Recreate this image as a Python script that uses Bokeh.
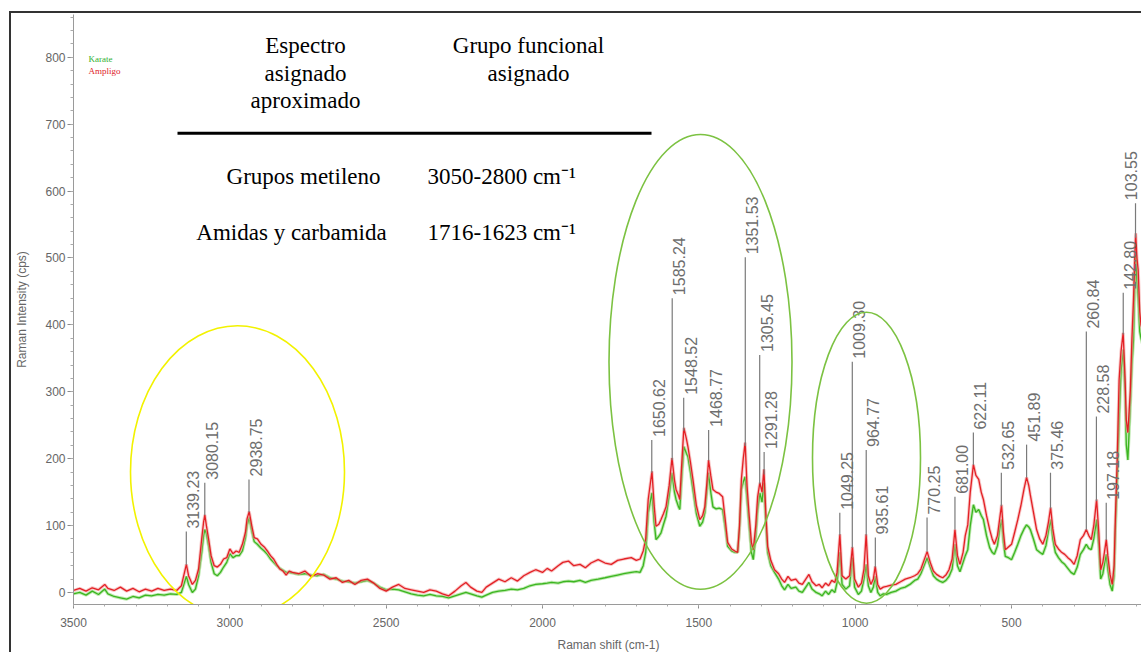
import numpy as np
from bokeh.plotting import figure
from bokeh.models import Range1d, SingleIntervalTicker
from bokeh.core.properties import value
from bokeh.embed import file_html
from bokeh.resources import INLINE

# ---------------- data ----------------
wavenumber = [3500, 3480, 3460, 3440, 3420, 3400, 3390, 3370, 3350, 3330, 3310, 3290, 3270, 3250,
              3230, 3210, 3190, 3170, 3155, 3145, 3139, 3132, 3120, 3110, 3100, 3090, 3084, 3080,
              3075, 3068, 3060, 3050, 3040, 3030, 3020, 3010, 3000, 2990, 2980, 2970, 2960, 2950,
              2945, 2938, 2930, 2922, 2912, 2900, 2890, 2880, 2870, 2860, 2850, 2840, 2830, 2820,
              2810, 2800, 2780, 2760, 2740, 2720, 2700, 2680, 2660, 2640, 2620, 2600, 2580, 2560,
              2540, 2520, 2500, 2480, 2460, 2440, 2420, 2400, 2380, 2360, 2340, 2320, 2300, 2280,
              2260, 2245, 2230, 2210, 2194, 2180, 2160, 2140, 2120, 2100, 2080, 2060, 2040, 2022,
              2000, 1985, 1971, 1950, 1935, 1917, 1900, 1880, 1863, 1845, 1822, 1800, 1780, 1760,
              1740, 1716, 1700, 1688, 1678, 1670, 1662, 1650, 1643, 1637, 1628, 1621, 1613, 1605,
              1595, 1586, 1578, 1573, 1565, 1561, 1555, 1548, 1540, 1535, 1527, 1519, 1508, 1497,
              1488, 1481, 1475, 1469, 1462, 1455, 1445, 1435, 1424, 1416, 1408, 1395, 1385, 1376,
              1370, 1364, 1358, 1352, 1346, 1340, 1332, 1326, 1318, 1312, 1305, 1298, 1292, 1286,
              1280, 1270, 1258, 1245, 1235, 1226, 1215, 1205, 1190, 1180, 1169, 1158, 1148, 1138,
              1125, 1115, 1106, 1095, 1085, 1075, 1065, 1058, 1049, 1042, 1030, 1018, 1009, 1002,
              990, 980, 972, 965, 958, 950, 942, 936, 928, 920, 910, 900, 885, 870, 855, 840, 825,
              810, 800, 790, 780, 770, 760, 750, 740, 730, 720, 710, 700, 690, 681, 673, 665, 655,
              648, 640, 632, 622, 614, 605, 597, 590, 580, 570, 562, 555, 545, 538, 532, 526, 520,
              510, 500, 490, 480, 470, 460, 452, 445, 440, 430, 420, 410, 400, 390, 382, 375, 368,
              360, 350, 340, 330, 320, 310, 300, 290, 280, 270, 261, 253, 245, 237, 228, 221, 215,
              208, 203, 197, 192, 185, 178, 172, 168, 162, 156, 150, 143, 137, 133, 128, 124, 120,
              115, 110, 106, 103, 99, 95, 90, 86, 80]

ampligo = [3, 6, 2, 7, 4, 12, 6, 3, 8, 2, 6, 1, 5, 2,
           6, 3, 5, 3, 10, 30, 42, 25, 12, 18, 35, 80, 105, 116,
           100, 80, 55, 40, 38, 42, 50, 52, 65, 58, 62, 60, 72, 90,
           110, 121, 100, 82, 80, 72, 68, 62, 55, 50, 42, 35, 32, 26,
           32, 30, 28, 32, 24, 28, 26, 20, 22, 15, 18, 12, 18, 20,
           14, 6, 2, 8, 12, 6, 4, 2, 0, 4, 2, -2, -5, 2,
           10, 15, 8, 2, 0, 8, 14, 20, 16, 22, 17, 25, 30, 34,
           30, 36, 32, 40, 45, 47, 40, 42, 37, 44, 49, 44, 42, 48,
           50, 52, 48, 50, 62, 80, 139, 181, 130, 99, 102, 109, 118, 128,
           160, 201, 168, 154, 145, 139, 190, 246, 230, 218, 195, 169, 130, 109,
           115, 128, 160, 198, 175, 154, 150, 148, 143, 110, 75, 65, 62, 60,
           100, 169, 200, 224, 160, 120, 75, 64, 100, 143, 164, 150, 184, 120,
           69, 48, 34, 28, 20, 15, 24, 18, 20, 14, 12, 20, 27, 16,
           10, 12, 7, 14, 10, 18, 15, 30, 87, 25, 20, 25, 68, 20,
           8, 14, 35, 87, 25, 12, 20, 39, 12, 5, 8, 9, 11, 12, 16, 20, 22,
           25, 28, 35, 48, 61, 45, 32, 27, 24, 22, 26, 34, 50, 94, 55, 42, 60,
           85, 101, 150, 191, 175, 169, 150, 139, 115, 94, 80, 72, 85, 110, 131, 90, 64,
           68, 72, 90, 109, 130, 155, 172, 160, 146, 120, 94, 80, 72, 85, 105, 127, 95,
           72, 65, 60, 57, 52, 48, 42, 55, 79, 85, 94, 85, 79, 100, 139, 90, 34,
           45, 60, 79, 55, 27, 12, 40, 109, 200, 318, 360, 388, 320, 258, 239, 270, 303,
           380, 437, 500, 537, 500, 482, 420, 400, 390]

karate = [-2, 0, -4, 2, -3, 5, -2, -6, -8, -10, -6, -8, -4, -5,
          -3, -4, -2, -3, 0, 15, 24, 12, 0, 5, 25, 60, 85, 94,
          88, 70, 45, 28, 25, 30, 38, 45, 58, 52, 55, 55, 62, 82,
          100, 112, 92, 76, 72, 66, 62, 57, 50, 45, 40, 36, 33, 30,
          30, 29, 27, 28, 26, 25, 27, 22, 20, 17, 16, 14, 16, 18,
          14, 8, 4, 5, 4, 1, -2, -4, -5, -3, -5, -6, -8, -5,
          -2, 0, -2, -5, -7, -4, 0, 2, 3, 5, 4, 6, 10, 12,
          13, 14, 15, 14, 16, 17, 16, 18, 15, 18, 20, 22, 24, 26,
          28, 30, 31, 30, 40, 60, 119, 149, 105, 79, 84, 89, 102, 114,
          145, 179, 150, 139, 128, 124, 170, 218, 208, 203, 180, 154, 118, 99,
          105, 119, 148, 179, 150, 128, 125, 126, 124, 98, 69, 62, 60, 60,
          95, 154, 165, 173, 140, 105, 60, 49, 85, 124, 149, 135, 164, 105,
          60, 40, 30, 20, 10, 4, 12, 6, 8, 2, 0, 8, 15, 5,
          0, -2, -5, 2, -3, 4, 0, 15, 60, 12, 5, 10, 52, 8,
          -3, 2, 20, 42, 10, 0, 8, 24, 0, -5, -2, -3, 0, 2, 6, 8, 12,
          18, 20, 28, 40, 52, 38, 25, 20, 17, 15, 18, 24, 35, 72, 40, 31, 45,
          55, 64, 100, 131, 120, 124, 115, 109, 85, 67, 60, 57, 70, 95, 109, 75, 54,
          52, 49, 60, 72, 85, 95, 101, 98, 94, 80, 64, 60, 57, 70, 92, 109, 80,
          60, 52, 46, 42, 36, 30, 27, 38, 57, 64, 72, 66, 64, 80, 109, 70, 20,
          28, 42, 57, 35, 12, 2, 25, 94, 170, 258, 330, 363, 300, 221, 198, 240, 281,
          340, 378, 460, 504, 467, 440, 390, 380, 370]

series_names = ["Karate", "Ampligo"]

peak_positions = [3139.23, 3080.15, 2938.75, 1650.62, 1585.24, 1548.52, 1468.77, 1351.53,
                  1305.45, 1291.28, 1049.25, 1009.30, 964.77, 935.61, 770.25, 681.00, 622.11,
                  532.65, 451.89, 375.46, 260.84, 228.58, 197.18, 142.80, 103.55]
peak_label_tops = [91, 164, 169, 228, 440, 291, 243, 501,
                   355, 210, 119, 345, 213, 82, 112, 143, 239,
                   179, 221, 179, 390, 263, 134, 448, 582]

x_ticks_interval = 500
y_ticks_interval = 100
x_label = "Raman shift (cm-1)"
y_label = "Raman Intensity (cps)"

table_header_left = ["Espectro", "asignado", "aproximado"]
table_header_right = ["Grupo funcional", "asignado"]
table_groups = ["Grupos metileno", "Amidas y carbamida"]
table_ranges = ["3050-2800 cm\u207b\u00b9", "1716-1623 cm\u207b\u00b9"]

# ---------------- layout helpers ----------------
X0, X1 = 3500, 78
Y0, Y1 = -18, 864
REF_L, REF_R, REF_T, REF_B = 73, 1143, 14, 605


def ref_to_data(rx, ry):
    x = X0 + (rx - REF_L) / (REF_R - REF_L) * (X1 - X0)
    y = Y1 + (ry - REF_T) / (REF_B - REF_T) * (Y0 - Y1)
    return x, y


p = figure(width=1132, height=641, x_range=Range1d(X0, X1), y_range=Range1d(Y0, Y1),
           output_backend="svg", toolbar_location=None,
           min_border_left=62, min_border_right=0, min_border_top=1, min_border_bottom=49)
p.styles = {"margin-left": "9px", "margin-top": "11px",
            "border-left": "2px solid #333333", "border-top": "2px solid #333333"}
p.outline_line_color = None
p.xgrid.visible = False
p.ygrid.visible = False
p.background_fill_color = "white"

wn = np.array(wavenumber, dtype=float)
red = np.array(ampligo, dtype=float)
green = np.array(karate, dtype=float)

# spectra
p.line(wn, green, line_color="#9fe08a", line_width=3.2, line_alpha=0.7)
p.line(wn, green, line_color="#3cb521", line_width=1.3)
p.line(wn, red, line_color="#f4a0a0", line_width=3.2, line_alpha=0.6)
p.line(wn, red, line_color="#e2171c", line_width=1.3, line_alpha=0.95)

# peak markers
order = np.argsort(wn)
peak_bottoms = np.interp(peak_positions, wn[order], red[order])
label_offsets = [7 if w > 120 else -5 for w in peak_positions]
p.segment(x0=peak_positions, y0=peak_bottoms, x1=peak_positions, y1=peak_label_tops,
          line_color="#7a7a7a", line_width=1.2)
p.text(x=peak_positions, y=peak_label_tops, text=[f"{v:.2f}" for v in peak_positions],
       angle=np.pi / 2, text_align="left", text_baseline="middle", x_offset=label_offsets,
       y_offset=-3, text_font=value("Liberation Sans"), text_font_size="16px",
       text_color="#6e6e6e")

# highlight ellipses
for (rx, ry, w, h, col) in [(237, 472, 214, 292, "#f2f200"),
                            (700, 362, 183, 455, "#7cc242"),
                            (866, 458, 108, 291, "#7cc242")]:
    cx, cy = ref_to_data(rx, ry)
    p.ellipse(x=[cx], y=[cy], width=[w], height=[h], width_units="screen",
              height_units="screen", fill_color=None, line_color=col, line_width=1.6)

# legend texts
for name, ry, col in [(series_names[0], 59, "#2fb02f"), (series_names[1], 71, "#e0242a")]:
    lx, ly = ref_to_data(88, ry)
    p.text(x=[lx], y=[ly], text=[name], text_font=value("Liberation Serif"),
           text_font_size="9px", text_color=col, text_align="left", text_baseline="middle")

# table overlay
serif = value("Liberation Serif")
fs = "23px"
for txt, ry in zip(table_header_left, [45, 73, 100]):
    tx, ty = ref_to_data(305, ry)
    p.text(x=[tx], y=[ty], text=[txt], text_font=serif, text_font_size=fs,
           text_color="black", text_align="center", text_baseline="middle")
for txt, ry in zip(table_header_right, [45, 73]):
    tx, ty = ref_to_data(528, ry)
    p.text(x=[tx], y=[ty], text=[txt], text_font=serif, text_font_size=fs,
           text_color="black", text_align="center", text_baseline="middle")
ax0, ay0 = ref_to_data(177, 133)
ax1, _ = ref_to_data(651, 133)
p.segment(x0=[ax0], y0=[ay0], x1=[ax1], y1=[ay0], line_color="black", line_width=3)
for txt, rx, ry in zip(table_groups, [303, 291], [176, 232]):
    tx, ty = ref_to_data(rx, ry)
    p.text(x=[tx], y=[ty], text=[txt], text_font=serif, text_font_size=fs,
           text_color="black", text_align="center", text_baseline="middle")
for txt, ry in zip(table_ranges, [176, 232]):
    tx, ty = ref_to_data(427, ry)
    p.text(x=[tx], y=[ty], text=[txt], text_font=serif, text_font_size=fs,
           text_color="black", text_align="left", text_baseline="middle")

# axes
p.xaxis.ticker = SingleIntervalTicker(interval=x_ticks_interval, num_minor_ticks=5)
p.yaxis.ticker = SingleIntervalTicker(interval=y_ticks_interval, num_minor_ticks=5)
p.xaxis.axis_label = x_label
p.yaxis.axis_label = y_label
for ax in (p.xaxis, p.yaxis):
    ax.axis_line_color = "#9a9a9a"
    ax.major_tick_line_color = "#8a8a8a"
    ax.minor_tick_line_color = "#aaaaaa"
    ax.major_label_text_font = "Liberation Sans"
    ax.major_label_text_font_size = "12px"
    ax.major_label_text_color = "#666666"
    ax.axis_label_text_font = "Liberation Sans"
    ax.axis_label_text_font_size = "12px"
    ax.axis_label_text_font_style = "normal"
    ax.axis_label_text_color = "#666666"
    ax.major_tick_in = 0
    ax.minor_tick_in = 0
p.xaxis.major_tick_out = 4
p.xaxis.minor_tick_out = 2
p.xaxis.major_label_standoff = 9
p.xaxis.axis_label_standoff = 8
p.yaxis.major_tick_out = 6
p.yaxis.minor_tick_out = 3
p.yaxis.major_label_standoff = 2
p.yaxis.axis_label_standoff = 13

open("out.html", "w").write(file_html(p, INLINE))
